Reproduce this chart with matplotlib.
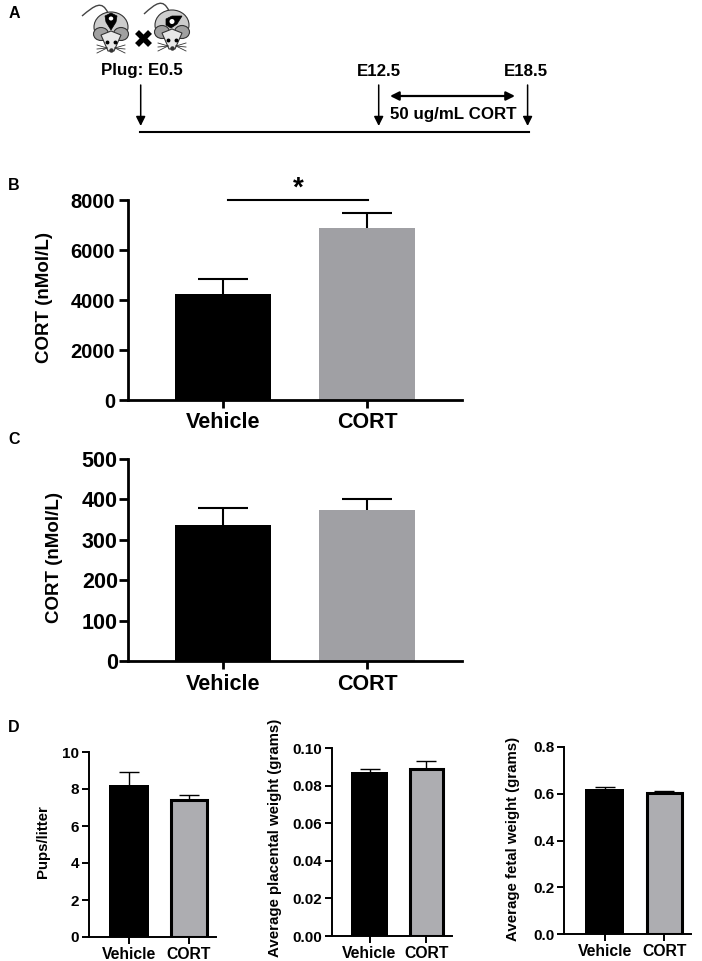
import matplotlib
matplotlib.use("Agg")
import matplotlib.pyplot as plt
from matplotlib.patches import Ellipse, Polygon, PathPatch
from matplotlib.path import Path

W, H = 702, 961
plt.rcParams['font.family'] = ['Liberation Sans', 'DejaVu Sans']
plt.rcParams['font.weight'] = 'bold'

# data
groups = ["Vehicle", "CORT"]
cort_b = [4230, 6900]
cort_b_err = [620, 590]
cort_c = [337, 375]
cort_c_err = [42, 26]
pups = [8.2, 7.4]
pups_err = [0.73, 0.25]
placenta = [0.087, 0.089]
placenta_err = [0.002, 0.004]
fetal = [0.62, 0.605]
fetal_err = [0.008, 0.008]

ticks_b = [0, 2000, 4000, 6000, 8000]
ticks_c = [0, 100, 200, 300, 400, 500]
ticks_pups = [0, 2, 4, 6, 8, 10]
ticks_placenta = [0.00, 0.02, 0.04, 0.06, 0.08, 0.10]
ticks_fetal = [0.0, 0.2, 0.4, 0.6, 0.8]

BLACK = "#000000"
GREY_BIG = "#a0a0a4"
GREY_SMALL = "#adadb1"

fig = plt.figure(figsize=(W / 100, H / 100), dpi=100)


def make_axes(left, right, top, bottom, c0, c1):
    # pixel box, y counted from the top of the image; c0, c1 are the bar centres in pixels
    ax = fig.add_axes([left / W, 1 - bottom / H, (right - left) / W, (bottom - top) / H])
    step = c1 - c0
    ax.set_xlim((left - c0) / step, (right - c0) / step)
    for s in ["top", "right"]:
        ax.spines[s].set_visible(False)
    return ax


def top_error(ax, i, value, err, lw, capsize):
    # upper whisker only, the lower cap is hidden
    _, caps, _ = ax.errorbar(i, value, yerr=[[0], [err]], color=BLACK, lw=lw, capsize=capsize,
                             capthick=lw, zorder=1)
    caps[0].set_visible(False)


def big_panel(box, values, errs, ticks, ylabel, label_x, label_y, tick_size, tick_pad):
    ax = make_axes(*box, 223, 367)
    ax.bar([0, 1], values, width=0.667, color=[BLACK, GREY_BIG], zorder=2)
    for i in range(2):
        top_error(ax, i, values[i], errs[i], 1.5, 18)
    ax.set_ylim(0, ticks[-1])
    ax.set_xticks([0, 1], groups, fontsize=15.5)
    ax.set_yticks(ticks, [str(t) for t in ticks], fontsize=tick_size)
    ax.tick_params(axis="y", width=2, length=6.5, pad=tick_pad)
    ax.tick_params(axis="x", width=2, length=6, pad=3)
    for s in ["left", "bottom"]:
        ax.spines[s].set_linewidth(2)
    fig.text(label_x / W, 1 - label_y / H, ylabel, rotation=90, fontsize=13.5,
             ha="center", va="center")
    return ax


def small_panel(box, centres, values, errs, ticks, labels, ylabel, label_x, label_y):
    ax = make_axes(*box, *centres)
    ax.bar([0], values[0], width=0.66, color=BLACK, lw=0, zorder=2)
    ax.bar([1], values[1], width=0.59, color=GREY_SMALL, edgecolor=BLACK, lw=2.2, zorder=2)
    for i in range(2):
        top_error(ax, i, values[i], errs[i], 1, 7)
    ax.set_ylim(0, ticks[-1])
    ax.set_xticks([0, 1], groups, fontsize=11.3)
    ax.set_yticks(ticks, labels, fontsize=11)
    ax.tick_params(width=1.4, length=5, pad=2)
    for s in ["left", "bottom"]:
        ax.spines[s].set_linewidth(1.4)
    fig.text(label_x / W, 1 - label_y / H, ylabel, rotation=90, fontsize=10.8,
             ha="center", va="center")
    return ax


# overlay in image pixels for panel A and letters
ov = fig.add_axes([0, 0, 1, 1], zorder=5)
ov.set_xlim(0, W)
ov.set_ylim(H, 0)
ov.axis("off")

for letter, x, y in [("A", 14, 13), ("B", 14, 185), ("C", 14, 439), ("D", 14, 728)]:
    ov.text(x, y, letter, fontsize=11.5, ha="center", va="center")


def mouse(cx, top, tail_x):
    # mouse seen from above: tail, body, ears, head, whiskers
    tail = Path([(cx - 3, top), (cx - 9, top - 13), (cx - 16, top - 8), (tail_x, top + 3)],
                [Path.MOVETO, Path.CURVE4, Path.CURVE4, Path.CURVE4])
    ov.add_patch(PathPatch(tail, fc="none", ec="#444444", lw=1))
    ov.add_patch(Ellipse((cx, top + 14), 34, 30, fc="#cdcdcd", ec="#333333", lw=0.8))
    ov.add_patch(Ellipse((cx - 10, top + 21), 15, 13, fc="#a0a0a0", ec="#333333", lw=0.8))
    ov.add_patch(Ellipse((cx + 10, top + 21), 15, 13, fc="#a0a0a0", ec="#333333", lw=0.8))
    ov.add_patch(Polygon([[cx - 10, top + 22], [cx, top + 18], [cx + 10, top + 22], [cx + 3, top + 38],
                          [cx - 3, top + 38]], fc="#e8e8e8", ec="#333333", lw=0.8))
    ov.plot([cx - 4, cx + 4], [top + 29, top + 29], ls="none", marker="o", ms=1.8, color="k")
    ov.plot([cx], [top + 37], ls="none", marker="o", ms=2.2, color="#333333")
    for sx in (-1, 1):
        for dy in (-3, 1, 5):
            ov.plot([cx + sx * 4, cx + sx * 14], [top + 35, top + 35 + dy], color="#333333", lw=0.6)


mouse(111, 13, 82)
mouse(172, 11, 144)

# pin on the first mouse
ov.add_patch(Polygon([[105, 16], [111, 13], [117, 16], [116, 22], [111, 30], [106, 22]], fc="k", ec="k", lw=0.5))
ov.add_patch(Ellipse((111, 18.5), 4.5, 4, fc="white", ec="none"))
# blot on the second mouse
ov.add_patch(Polygon([[166, 19], [172, 16], [182, 16], [177, 24], [171, 28], [166, 25]], fc="k", ec="k", lw=0.5))
ov.add_patch(Ellipse((172, 21.5), 5, 5, fc="white", ec="none"))

ov.plot([137, 150], [32, 45], color="k", lw=4, solid_capstyle="butt")
ov.plot([150, 137], [32, 45], color="k", lw=4, solid_capstyle="butt")

ov.text(141.5, 71, "Plug: E0.5", fontsize=12.2, ha="center", va="center")
ov.text(379, 71, "E12.5", fontsize=12.2, ha="center", va="center")
ov.text(526, 71, "E18.5", fontsize=12.2, ha="center", va="center")
ov.text(453.5, 115, "50 ug/mL CORT", fontsize=12.2, ha="center", va="center")

ov.plot([140, 529], [132, 132], color="k", lw=1.5)
for x in [140.7, 378.7, 527.6]:
    ov.annotate("", xy=(x, 126), xytext=(x, 85),
                arrowprops=dict(arrowstyle="-|>", color="k", lw=1.1, mutation_scale=14, shrinkA=0, shrinkB=0))
ov.annotate("", xy=(390, 96), xytext=(515, 96),
            arrowprops=dict(arrowstyle="<|-|>", color="k", lw=1.6, mutation_scale=13, shrinkA=0, shrinkB=0))

ov.plot([228, 368], [200, 200], color="k", lw=1.5)
ov.text(298, 189, "*", fontsize=20, ha="center", va="center")

big_panel((127.5, 462, 200, 400), cort_b, cort_b_err, ticks_b, "CORT (nMol/L)", 45, 297.5, 14.5, 2.5)
big_panel((127.5, 462, 459, 661), cort_c, cort_c_err, ticks_c, "CORT (nMol/L)", 55, 557.5, 15.5, 0.5)

small_panel((88.7, 216, 752, 937), (128.8, 189), pups, pups_err, ticks_pups,
            [str(t) for t in ticks_pups], "Pups/litter", 43, 842)
small_panel((332, 452, 748, 936), (369.5, 426.3), placenta, placenta_err, ticks_placenta,
            [f"{t:.2f}" for t in ticks_placenta], "Average placental weight (grams)", 275, 838)
small_panel((564, 691, 747, 934), (604.8, 664.2), fetal, fetal_err, ticks_fetal,
            [f"{t:.1f}" for t in ticks_fetal], "Average fetal weight (grams)", 513.5, 839)

fig.savefig("out.png", dpi=100)
